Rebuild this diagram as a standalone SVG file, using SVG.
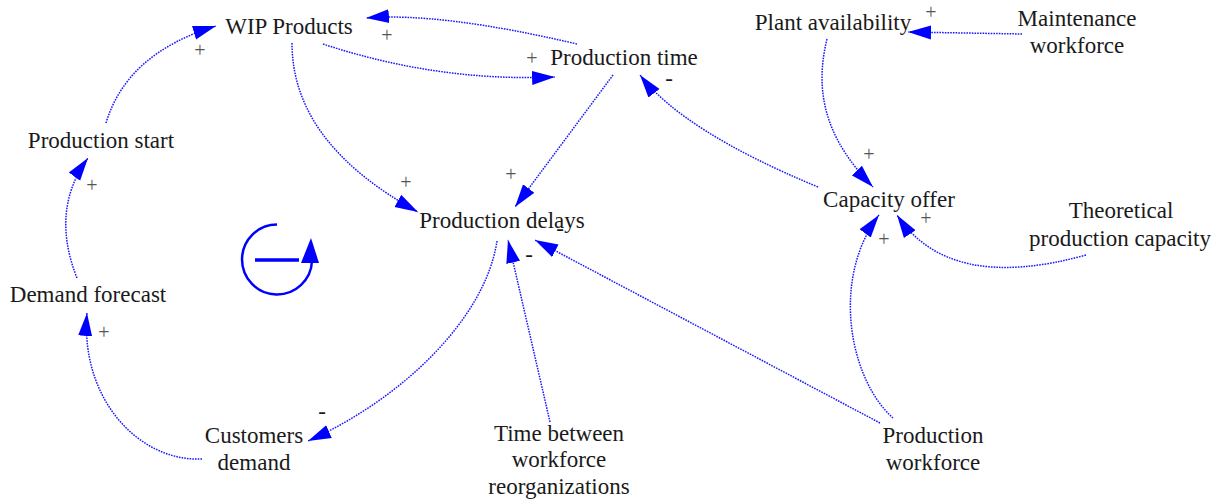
<svg xmlns="http://www.w3.org/2000/svg" width="1221" height="504" viewBox="0 0 1221 504">
  <style>
    .lbl { font-family: "Liberation Serif", "Times New Roman", serif; font-size: 23px; fill: #1a1a1a; text-anchor: middle; }
    .pol { font-family: "Liberation Serif", "Times New Roman", serif; font-size: 20px; fill: #555555; text-anchor: middle; }
    .neg { font-family: "Liberation Serif", "Times New Roman", serif; font-size: 23px; fill: #1a1a1a; text-anchor: middle; }
    .link { fill: none; stroke: #1a1aff; stroke-width: 1.5; stroke-dasharray: 1.6 1.1; marker-end: url(#ah); }
  </style>
  <defs>
    <marker id="ah" markerUnits="userSpaceOnUse" viewBox="0 0 24 16" markerWidth="24" markerHeight="16" refX="23" refY="8" orient="auto">
      <path d="M0,1 L23,8 L0,15 Z" fill="#0000ff"/>
    </marker>
  </defs>
  <rect width="1221" height="504" fill="#ffffff"/>

  <!-- causal links -->
  <g id="connectors">
    <path class="link" d="M106,123 Q127,53 216,26"/>
    <path class="link" d="M577,44 Q440,12 366,18"/>
    <path class="link" d="M323,44 Q438,82 555,77"/>
    <path class="link" d="M292,43 Q292,143 418,212"/>
    <path class="link" d="M613,75 L515,207"/>
    <path class="link" d="M818,187 Q683,131 640,75"/>
    <path class="link" d="M827,39 C812,100 832,145 873,187"/>
    <path class="link" d="M1022,34 L908,32"/>
    <path class="link" d="M1086,255 Q949,293 897,215"/>
    <path class="link" d="M893,418 C850,380 830,280 879,215"/>
    <path class="link" d="M880,423 L535,240"/>
    <path class="link" d="M550,422 L508,240"/>
    <path class="link" d="M497,241 C485,320 400,400 308,441"/>
    <path class="link" d="M202,459 C140,462 80,400 87,313"/>
    <path class="link" d="M77,278 Q50,210 88,158"/>
  </g>

  <!-- link polarities -->
  <g id="polarities">
    <text class="pol" x="200" y="57">+</text>
    <text class="pol" x="387" y="42">+</text>
    <text class="pol" x="532" y="65">+</text>
    <text class="pol" x="406" y="189">+</text>
    <text class="pol" x="511" y="181">+</text>
    <text class="pol" x="92" y="192">+</text>
    <text class="pol" x="104" y="339">+</text>
    <text class="pol" x="869" y="161">+</text>
    <text class="pol" x="931" y="19">+</text>
    <text class="pol" x="926" y="225">+</text>
    <text class="pol" x="884" y="246">+</text>
    <text class="neg" x="669" y="86">-</text>
    <text class="neg" x="529" y="262">-</text>
    <text class="neg" x="560" y="236">-</text>
    <text class="neg" x="322" y="419">-</text>
  </g>

  <!-- balancing loop marker -->
  <g id="loop-B">
    <path d="M277,224.5 A35,35 0 1 0 312,261" fill="none" stroke="#0000ff" stroke-width="2.5"/>
    <path d="M311,238 L301,263 L319,263 Z" fill="#0000ff"/>
    <line x1="255" y1="260" x2="299" y2="260" stroke="#0000ff" stroke-width="3.5"/>
  </g>

  <!-- variables -->
  <g id="wip-products"><text class="lbl" x="289" y="34">WIP Products</text></g>
  <g id="production-time"><text class="lbl" x="624" y="65">Production time</text></g>
  <g id="plant-availability"><text class="lbl" x="833" y="30">Plant availability</text></g>
  <g id="maintenance-workforce">
    <text class="lbl" x="1077" y="26">Maintenance</text>
    <text class="lbl" x="1077" y="53">workforce</text>
  </g>
  <g id="production-start"><text class="lbl" x="101" y="148">Production start</text></g>
  <g id="capacity-offer"><text class="lbl" x="889" y="207">Capacity offer</text></g>
  <g id="theoretical-capacity">
    <text class="lbl" x="1121" y="218">Theoretical</text>
    <text class="lbl" x="1120" y="246">production capacity</text>
  </g>
  <g id="production-delays"><text class="lbl" x="502" y="228">Production delays</text></g>
  <g id="demand-forecast"><text class="lbl" x="88" y="302">Demand forecast</text></g>
  <g id="customers-demand">
    <text class="lbl" x="254" y="443">Customers</text>
    <text class="lbl" x="254" y="470">demand</text>
  </g>
  <g id="time-between-reorganizations">
    <text class="lbl" x="559" y="441">Time between</text>
    <text class="lbl" x="559" y="467">workforce</text>
    <text class="lbl" x="559" y="494">reorganizations</text>
  </g>
  <g id="production-workforce">
    <text class="lbl" x="933" y="443">Production</text>
    <text class="lbl" x="933" y="470">workforce</text>
  </g>
</svg>
